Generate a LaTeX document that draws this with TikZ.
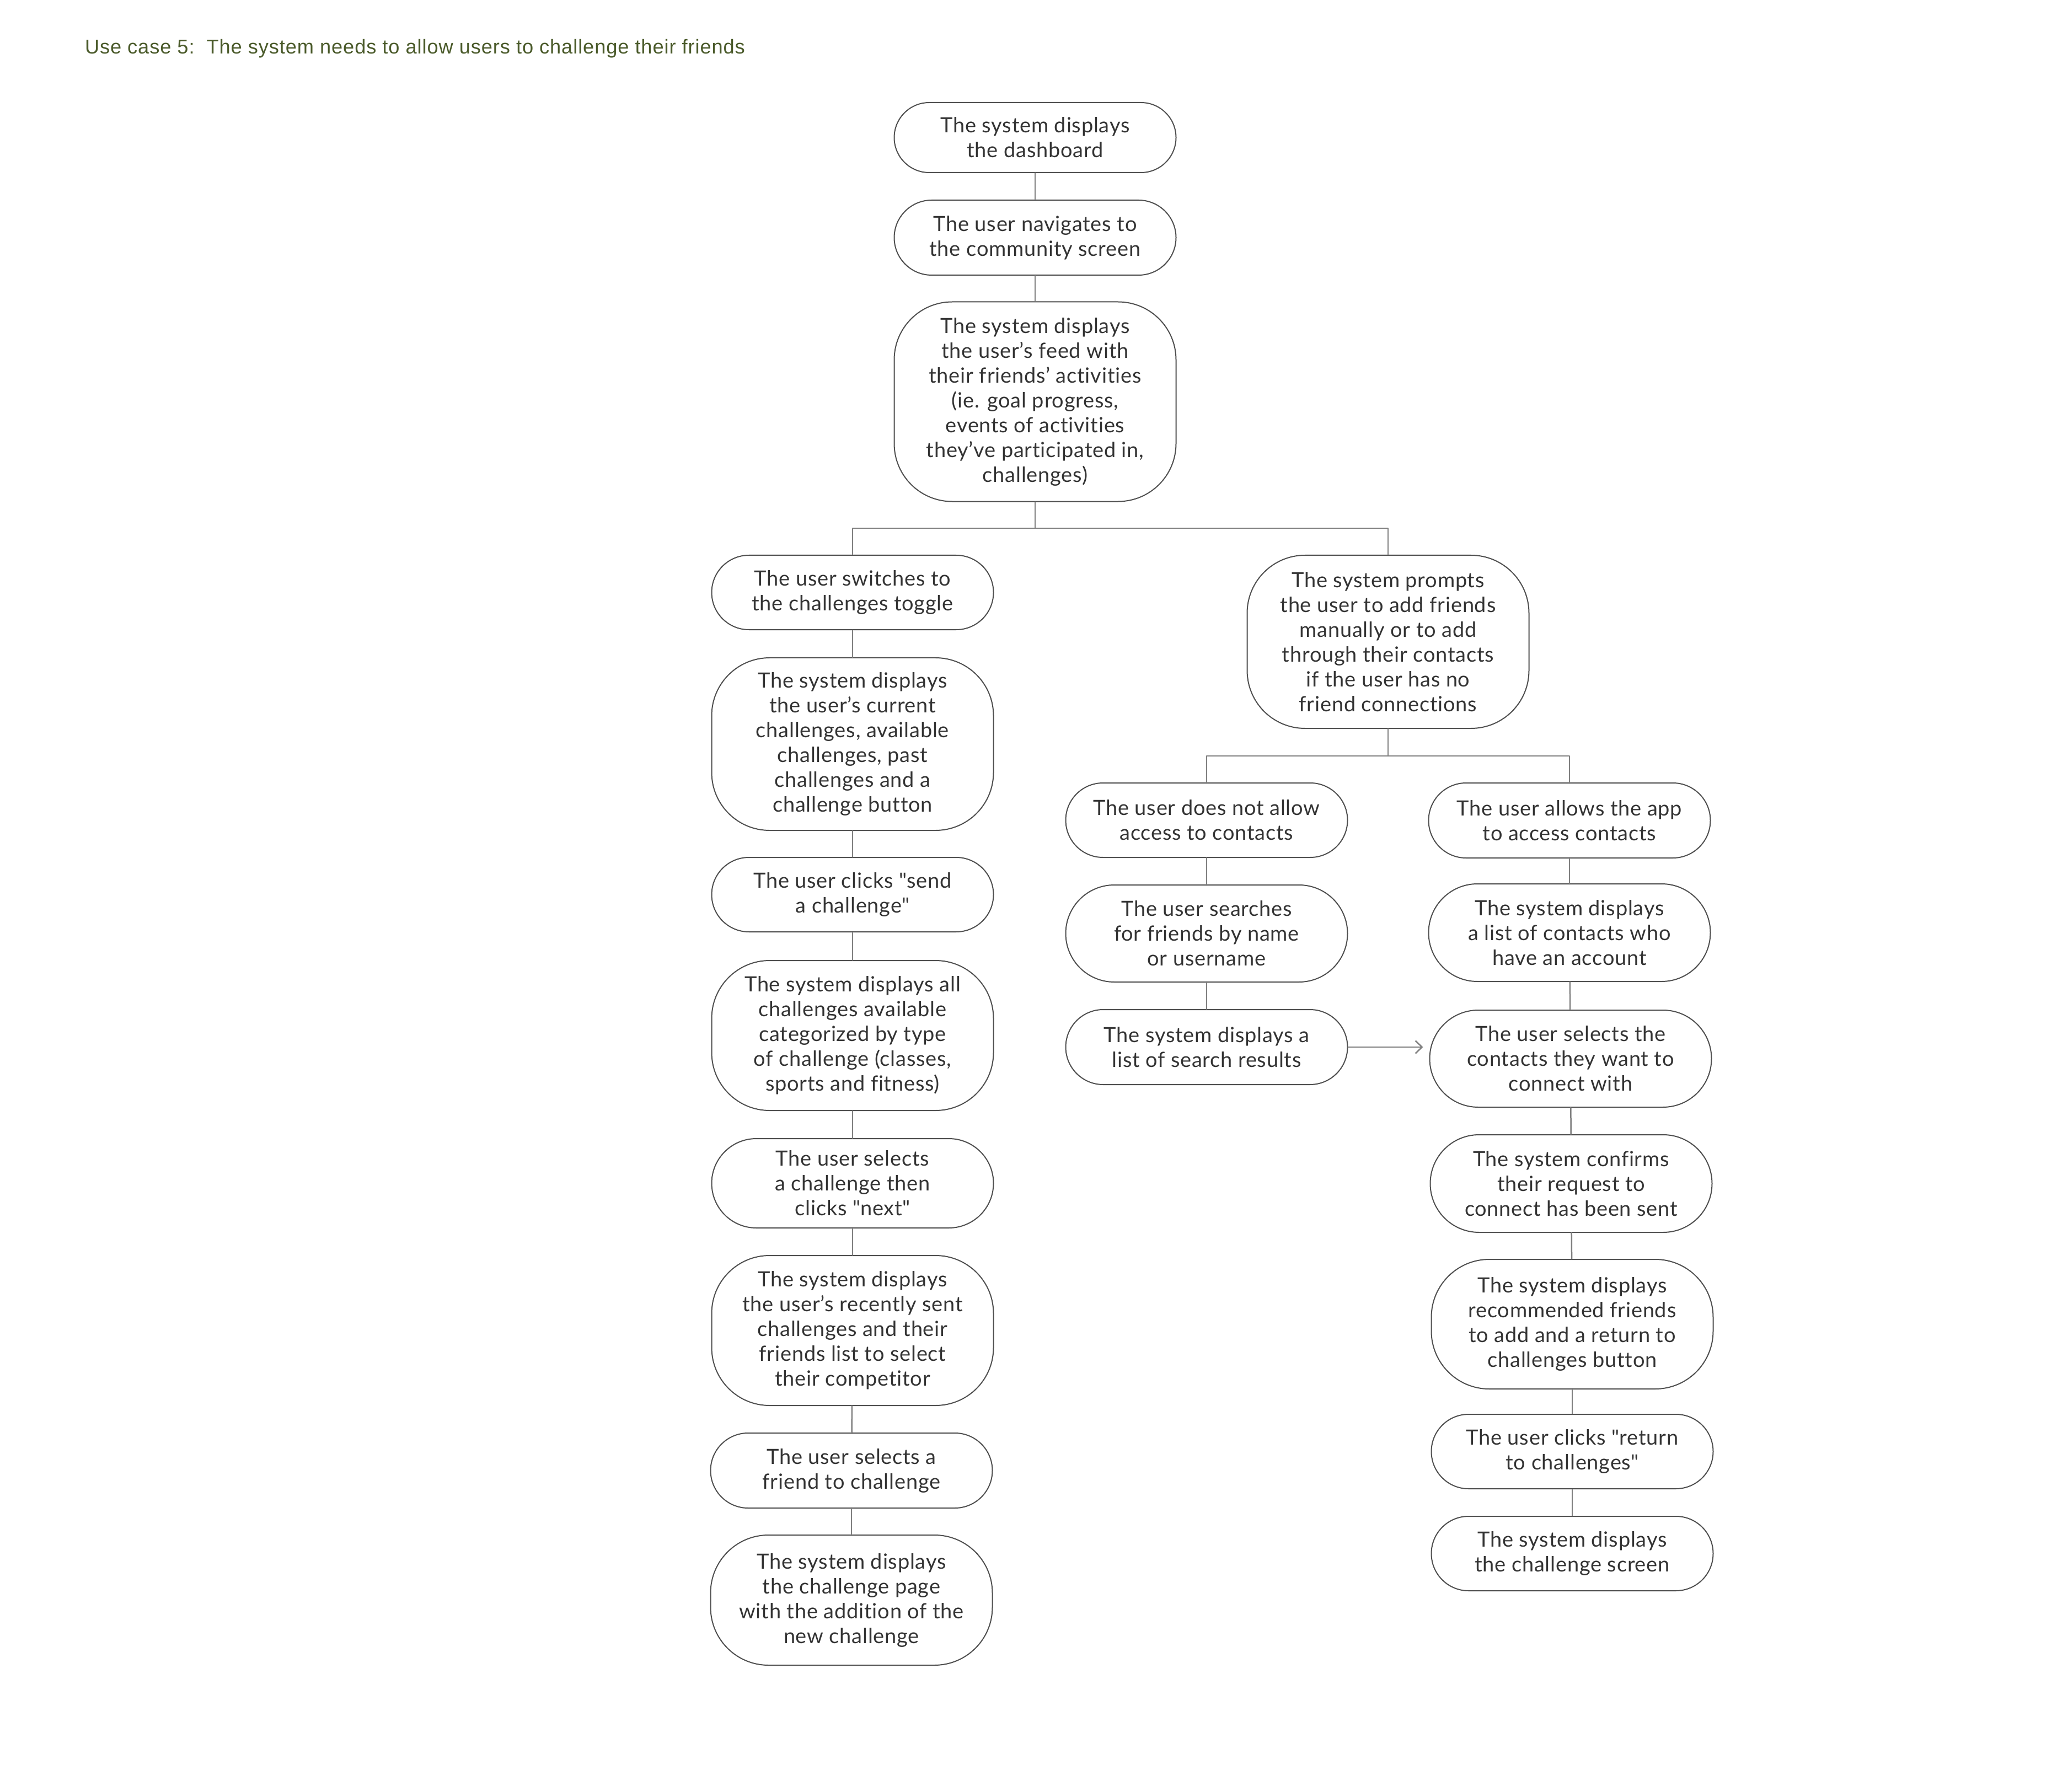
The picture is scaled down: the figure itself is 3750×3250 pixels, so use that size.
\documentclass[tikz,border=0pt]{standalone}
\usepackage{fontspec}
\setmainfont{Lato}[LetterSpace=2,Ligatures=NoCommon]
\newfontfamily\headfont{Liberation Sans}[LetterSpace=2.5]
\usepackage{xcolor}
\usetikzlibrary{arrows.meta}
\definecolor{ink}{HTML}{333333}
\definecolor{rim}{HTML}{505050}
\definecolor{wire}{HTML}{808080}
\definecolor{olive}{HTML}{4A5A2A}

\begin{document}
\begin{tikzpicture}
    [x=0.2pt,y=-0.2pt,line cap=round,line join=round,
     pill/.style={draw=rim,line width=0.4pt,text=ink,align=center,inner sep=0pt,
       minimum width=102.2pt,minimum height=#1,rounded corners={min(#1/2,21pt)},
       font=\fontsize{7.6}{9}\selectfont},
     link/.style={draw=wire,line width=0.5pt}]
\useasboundingbox (0,0) rectangle (3750,3250);
%heading
\node[font=\headfont\fontsize{7.25}{8}\selectfont,text=olive,anchor=base west,inner sep=0pt] (heading) at (153,98)
     {Use case 5:\ \ The system needs to allow users to challenge their friends};

%main column
\node[pill=25.4pt] (dashboard) at (1877,249.5) {The system displays\\the dashboard};
\node[pill=27.2pt] (community) at (1877,431) {The user navigates to\\the community screen};
\node[pill=72.4pt] (feed) at (1877,728.5) {The system displays\\the user’s feed with\\their friends’ activities\\(ie. goal progress,\\events of activities\\they’ve participated in,\\challenges)};

%challenges branch
\node[pill=27pt] (toggle) at (1546,1074.5) {The user switches to\\the challenges toggle};
\node[pill=62.6pt] (current) at (1546,1349.5) {The system displays\\the user’s current\\challenges, available\\challenges, past\\challenges and a\\challenge button};
\node[pill=27pt] (send) at (1546,1622.5) {The user clicks \textquotedbl send\\a challenge\textquotedbl};
\node[pill=54.4pt] (catalogue) at (1546,1878) {The system displays all\\challenges available\\categorized by type\\of challenge (classes,\\sports and fitness)};
\node[pill=32.4pt] (pick) at (1546,2146) {The user selects\\a challenge then\\clicks \textquotedbl next\textquotedbl};
\node[pill=54.4pt] (recent) at (1546,2413) {The system displays\\the user’s recently sent\\challenges and their\\friends list to select\\their competitor};
\node[pill=27.2pt] (friend) at (1544,2667) {The user selects a\\friend to challenge};
\node[pill=47.2pt] (newpage) at (1544,2902) {The system displays\\the challenge page\\with the addition of the\\new challenge};

%friends branch
\node[pill=62.8pt] (prompt) at (2517,1164) {The system prompts\\the user to add friends\\manually or to add\\through their contacts\\if the user has no\\friend connections};
\node[pill=27pt] (deny) at (2188,1487.5) {The user does not allow\\access to contacts};
\node[pill=35.2pt] (search) at (2188,1693) {The user searches\\for friends by name\\or username};
\node[pill=27.2pt] (results) at (2188,1899) {The system displays a\\list of search results};
\node[pill=27.2pt] (allow) at (2846,1488) {The user allows the app\\to access contacts};
\node[pill=35.4pt] (contacts) at (2846,1691.5) {The system displays\\a list of contacts who\\have an account};
\node[pill=35.2pt] (choose) at (2848,1920) {The user selects the\\contacts they want to\\connect with};
\node[pill=35.4pt] (confirm) at (2849,2146.5) {The system confirms\\their request to\\connect has been sent};
\node[pill=47pt] (recommend) at (2851,2401.5) {The system displays\\recommended friends\\to add and a return to\\challenges button};
\node[pill=27pt] (back) at (2851,2632.5) {The user clicks \textquotedbl return\\to challenges\textquotedbl};
\node[pill=27pt] (screen) at (2851,2817.5) {The system displays\\the challenge screen};

%connectors
\draw[link] (dashboard) -- (community);
\draw[link] (community) -- (feed);
\coordinate (fork) at (1877,958);
\draw[link] (feed) -- (fork) -| (toggle);
\draw[link] (fork) -| (prompt);
\draw[link] (toggle) -- (current);
\draw[link] (current) -- (send);
\draw[link] (send) -- (catalogue);
\draw[link] (catalogue) -- (pick);
\draw[link] (pick) -- (recent);
\draw[link] (recent) -- (friend);
\draw[link] (friend) -- (newpage);
\coordinate (split) at (2517,1371);
\draw[link] (prompt) -- (split) -| (deny);
\draw[link] (split) -| (allow);
\draw[link] (deny) -- (search);
\draw[link] (search) -- (results);
\draw[link] (allow) -- (contacts);
\draw[link] (contacts) -- (choose);
\draw[link] (choose) -- (confirm);
\draw[link] (confirm) -- (recommend);
\draw[link] (recommend) -- (back);
\draw[link] (back) -- (screen);
\draw[link,-{Straight Barb[length=2.4pt,width=4.6pt]},shorten >=2.2pt] (results.east) -- (results.east -| choose.west);
\end{tikzpicture}
\end{document}
